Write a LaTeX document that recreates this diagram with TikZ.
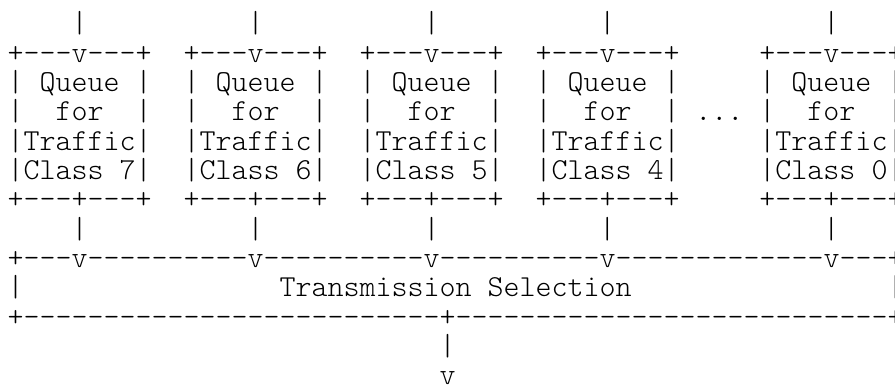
\documentclass[tikz,border=0pt]{standalone}
\usepackage{fontspec}

\newcommand\asciifont{\ttfamily\fontseries{l}\fontsize{30.48pt}{29.33pt}\selectfont\setlength{\lineskiplimit}{-100pt}}

\tikzset{
  ascii/.style={font=\asciifont, inner sep=0pt, outer sep=0pt, anchor=base west, align=left},
}

\begin{document}
\begin{tikzpicture}[x=16pt, y=-29.33pt]
        \useasboundingbox (-0.97,-1.125) rectangle (54.97,12.1);

        % Inputs
        \node[ascii] (in7) at (3.5,0) {|};
        \node[ascii] (in6) at (14.5,0) {|};
        \node[ascii] (in5) at (25.5,0) {|};
        \node[ascii] (in4) at (36.5,0) {|};
        \node[ascii] (in0) at (50.5,0) {|};

        % Queues (base = last line)
        \node[ascii] (q7) at (-0.5,6) {+---v---+\\|~Queue~|\\|~~for~~|\\|Traffic|\\|Class~7|\\+---+---+};
        \node[ascii] (q6) at (10.5,6) {+---v---+\\|~Queue~|\\|~~for~~|\\|Traffic|\\|Class~6|\\+---+---+};
        \node[ascii] (q5) at (21.5,6) {+---v---+\\|~Queue~|\\|~~for~~|\\|Traffic|\\|Class~5|\\+---+---+};
        \node[ascii] (q4) at (32.5,6) {+---v---+\\|~Queue~|\\|~~for~~|\\|Traffic|\\|Class~4|\\+---+---+};
        \node[ascii] (dots) at (42.5,3) {...};
        \node[ascii] (q0) at (46.5,6) {+---v---+\\|~Queue~|\\|~~for~~|\\|Traffic|\\|Class~0|\\+---+---+};

        % Queue outputs
        \node[ascii] (o7) at (3.5,7) {|};
        \node[ascii] (o6) at (14.5,7) {|};
        \node[ascii] (o5) at (25.5,7) {|};
        \node[ascii] (o4) at (36.5,7) {|};
        \node[ascii] (o0) at (50.5,7) {|};

        % Transmission Selection
        \node[ascii] (sel) at (-0.5,10) {+---v----------v----------v----------v-------------v---+\\|~~~~~~~~~~~~~~~~Transmission~Selection~~~~~~~~~~~~~~~~|\\+--------------------------+---------------------------+};

        % Output
        \node[ascii] (out) at (26.5,12) {|\\v};
    \end{tikzpicture}
\end{document}
